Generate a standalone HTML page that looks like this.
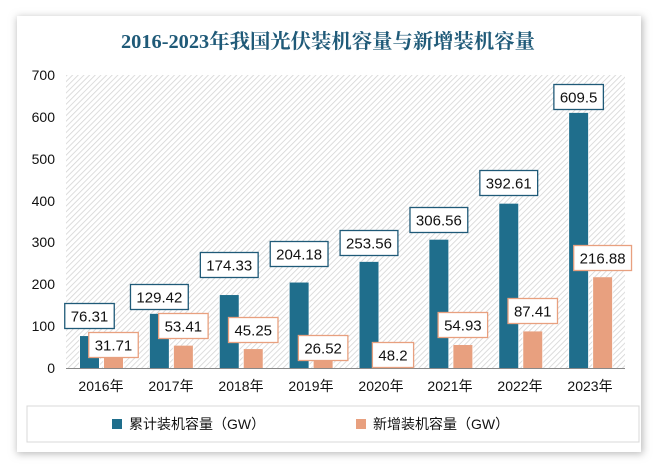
<!DOCTYPE html>
<html><head><meta charset="utf-8"><style>
body{margin:0;background:#fff;}
svg{display:block;font-family:"Liberation Sans","Noto Sans CJK SC",sans-serif;}
</style></head><body>
<svg width="658" height="469" viewBox="0 0 658 469">
<defs>
<pattern id="h" width="4" height="4" patternUnits="userSpaceOnUse" patternTransform="rotate(45)">
<rect width="4" height="4" fill="#fff"/><line x1="0" y1="0" x2="0" y2="4" stroke="#d4d4d4" stroke-width="1.6"/>
</pattern>
<filter id="s" x="-5%" y="-5%" width="110%" height="110%"><feGaussianBlur stdDeviation="4"/></filter>
</defs>
<rect x="0" y="0" width="658" height="469" fill="#fff"/>
<rect x="17" y="17" width="626" height="437" fill="#bbb" filter="url(#s)"/>
<rect x="17" y="16" width="624" height="436" fill="#fff"/>
<text x="328" y="48" text-anchor="middle" font-family="'Liberation Serif','Noto Serif CJK SC',serif" font-size="20" font-weight="bold" fill="#1f5a78" textLength="414" lengthAdjust="spacingAndGlyphs">2016-2023年我国光伏装机容量与新增装机容量</text>
<rect x="66" y="75" width="559" height="293" fill="url(#h)"/>
<g font-size="14" fill="#111" text-anchor="end">
<text x="55" y="373">0</text><text x="55" y="331">100</text><text x="55" y="289">200</text><text x="55" y="247">300</text><text x="55" y="206">400</text><text x="55" y="164">500</text><text x="55" y="122">600</text><text x="55" y="80">700</text>
</g>
<g id="bars"></g>
<line x1="66" y1="368.5" x2="625" y2="368.5" stroke="#888" stroke-width="1"/>
<g font-size="14" fill="#111" text-anchor="middle">
<text x="101" y="391">2016年</text><text x="171" y="391">2017年</text><text x="241" y="391">2018年</text><text x="311" y="391">2019年</text><text x="381" y="391">2020年</text><text x="450" y="391">2021年</text><text x="520" y="391">2022年</text><text x="590" y="391">2023年</text>
</g>
<rect x="27" y="406" width="612" height="36" fill="#fff" stroke="#d8d8d8"/>
<rect x="112" y="419" width="10" height="10" fill="#1f6e8c"/>
<text x="129" y="429" font-size="14" fill="#111">累计装机容量（GW）</text>
<rect x="356" y="419" width="10" height="10" fill="#e8a07f"/>
<text x="373" y="429" font-size="14" fill="#111">新增装机容量（GW）</text>
<g id="lab"></g>
</svg>
<script>
var b=[76.31,129.42,174.33,204.18,253.56,306.56,392.61,609.5],o=[31.71,53.41,45.25,26.52,48.2,54.93,87.41,216.88];
var bc=[316,297,265,254,243,220,183,97],oc=[345,326,330,348,355,325,311,258];
var k=293/700,s='',l='';
for(var i=0;i<8;i++){var x0=66+i*69.875+14;
var hb=b[i]*k,ho=o[i]*k;
s+='<rect x="'+(x0-1)+'" y="'+(368-hb)+'" width="21" height="'+hb+'" fill="#fff" opacity="0.8"/>';
s+='<rect x="'+x0+'" y="'+(368-hb)+'" width="19" height="'+hb+'" fill="#1f6e8c"/>';
s+='<rect x="'+(x0+23)+'" y="'+(368-ho)+'" width="21" height="'+ho+'" fill="#fff" opacity="0.8"/>';
s+='<rect x="'+(x0+24)+'" y="'+(368-ho)+'" width="19" height="'+ho+'" fill="#e8a07f"/>';
function box(cx,cy,t,c){var w=t.length*8.3+8;return '<rect x="'+(cx-w/2)+'" y="'+(cy-12.5)+'" width="'+w+'" height="25" fill="#fff" stroke="'+c+'" stroke-width="1.3"/><text x="'+cx+'" y="'+(cy+5.5)+'" text-anchor="middle" font-size="15" fill="#111">'+t+'</text>';}
l+=box(x0+9.5,bc[i],String(b[i]),'#1f5a78');
l+=box(x0+33.5,oc[i],String(o[i]),'#e8a07f');
}
document.getElementById('bars').innerHTML=s;document.getElementById('lab').innerHTML=l;
</script>
</body></html>
